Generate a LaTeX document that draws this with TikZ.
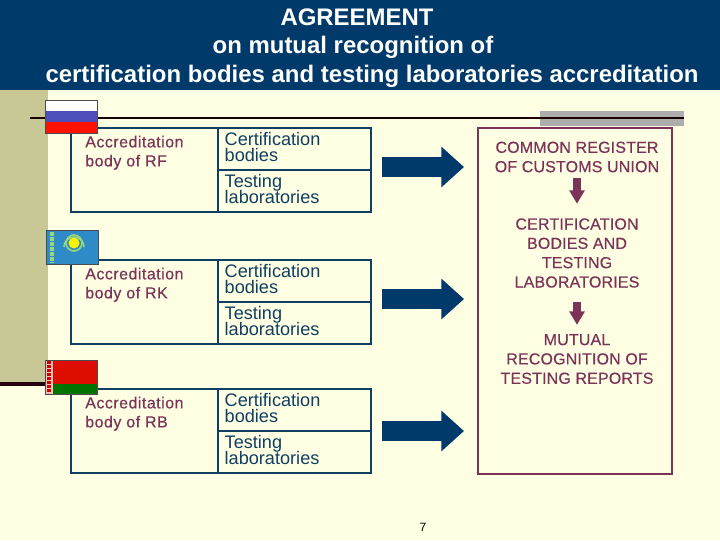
\documentclass[tikz,border=0pt]{standalone}
\usepackage{fontspec}
\setmainfont{Liberation Sans}
\usetikzlibrary{arrows.meta}
\definecolor{navy}{HTML}{003A6B}
\definecolor{cream}{HTML}{FFFFE3}
\definecolor{olive}{HTML}{C8C897}
\definecolor{plum}{HTML}{7D3358}
\definecolor{boxline}{HTML}{0F3F63}
\definecolor{kzblue}{HTML}{2E8BC8}
\definecolor{kzgreen}{HTML}{9AD67A}
\tikzset{
  titletext/.style={text=white,font=\fontsize{17.95}{20}\bfseries\selectfont,inner sep=0pt},
  labbox/.style={draw=boxline,line width=1.5pt,anchor=north west,inner sep=0pt,outer sep=0pt,inner xsep=5pt,
    minimum width=114.75pt,minimum height=31.5pt,text width=104.75pt,align=left,text=boxline,text depth=14.5pt,
    execute at begin node={\lineskiplimit=-20pt},font=\fontsize{13.6}{12}\selectfont},
  bodytext/.style={text=plum,anchor=north west,inner sep=0pt,align=left,
    font=\fontsize{12}{14.3}\selectfont\addfontfeature{LetterSpace=3,FakeBold=0.4}},
  regtext/.style={text=plum,inner sep=0pt,align=center,
    font=\fontsize{12}{14.5}\selectfont\addfontfeature{LetterSpace=1,FakeBold=0.4}},
  bigarrow/.style={draw=navy,line width=14.5pt,-{Triangle[length=17pt,width=29.5pt]}},
  smallarrow/.style={draw=plum,line width=6pt,-{Triangle[length=10pt,width=11pt]}}
}
\begin{document}
\begin{tikzpicture}[x=0.75pt,y=-0.75pt]
\useasboundingbox (0,0) rectangle (720,540);
% Background
\fill[cream] (0,0) rectangle (720,540);
\fill[olive] (0,90) rectangle (48,382);
\fill[navy] (0,0) rectangle (720,90);
\fill[black!32] (540,111) rectangle (684,126);
\draw[draw=black!90!red,line width=1.2pt] (30,118) -- (684,118);
\draw[draw=black!80!purple,line width=2.8pt] (0,384) -- (48,384);
% Title
\node[titletext] (title1) at (357,17) {AGREEMENT};
\node[titletext] (title2) at (353,47.5) {on mutual recognition of};
\node[titletext] (title3) at (372,76.5) {certification bodies and testing laboratories accreditation};
% Rows
\foreach \nm/\y/\lab in {rf/128/RF,rk/260/RK,rb/389/RB} {
  \draw[draw=boxline,line width=1.5pt] (71,\y) rectangle (218,\y+84);
  \node[bodytext] (\nm body) at (85,\y+7.5) {Accreditation\\body of \lab};
  \node[labbox] (\nm cert) at (218,\y) {Certification\\bodies};
  \node[labbox] (\nm test) at (218,\y+42) {Testing\\laboratories};
}
% Register
\node[draw=plum,line width=1.5pt,outer sep=0pt,minimum width=145.5pt,minimum height=259.5pt,anchor=north west] (regbox) at (478,128) {};
\node[regtext] (regname) at (577,157) {COMMON REGISTER\\OF CUSTOMS UNION};
\node[regtext] (regcert) at (577,253) {CERTIFICATION\\BODIES AND\\TESTING\\LABORATORIES};
\node[regtext] (regmut) at (577,359) {MUTUAL\\RECOGNITION OF\\TESTING REPORTS};
\draw[smallarrow,shorten <=3.75pt,shorten >=10.75pt] (regname.south) -- (regcert.north);
\draw[smallarrow,shorten <=10.5pt,shorten >=6.75pt] (regcert.south) -- (regmut.north);
% Arrows
\foreach \nm/\dy in {rf/2.25,rk/2.25,rb/0} {
  \draw[bigarrow,shorten <=8.25pt,shorten >=10.5pt] ([yshift=\dy pt]\nm cert.south east) -- ([yshift=\dy pt]\nm cert.south east -| regbox.west);
}
% Flags
\fill[white] (45,100) rectangle (97,111);
\fill[blue!45!gray!95] (45,111) rectangle (97,122);
\fill[red!85!orange] (45,122) rectangle (97,133);
\draw[black!70,line width=0.5pt] (45,100) rectangle (97,133);
\fill[kzblue] (46,230) rectangle (98,264);
\draw[kzgreen,dash pattern=on 3pt off 0.8pt,line width=3.5pt] (52,232) -- (52,263);
\draw[kzgreen,line width=1.2pt] (74,243) circle (8);
\fill[yellow] (74,243) circle (5.5);
\draw[kzgreen,line width=1.2pt] (64,247) arc (180:360:10);
\draw[black!70,line width=0.5pt] (46,230) rectangle (98,264);
\fill[red!85!black!90!orange] (45,360) rectangle (97,384);
\fill[green!45!black] (45,384) rectangle (97,394);
\fill[red!25] (45,360) rectangle (53,394);
\draw[red!80!black,dash pattern=on 2pt off 1pt,line width=2.5pt] (49,361) -- (49,393);
\draw[black!70,line width=0.5pt] (45,360) rectangle (97,394);
% Page number
\node[inner sep=0pt,text=black,font=\fontsize{9}{11}\selectfont] (pagenum) at (423,527) {7};
\end{tikzpicture}
\end{document}
